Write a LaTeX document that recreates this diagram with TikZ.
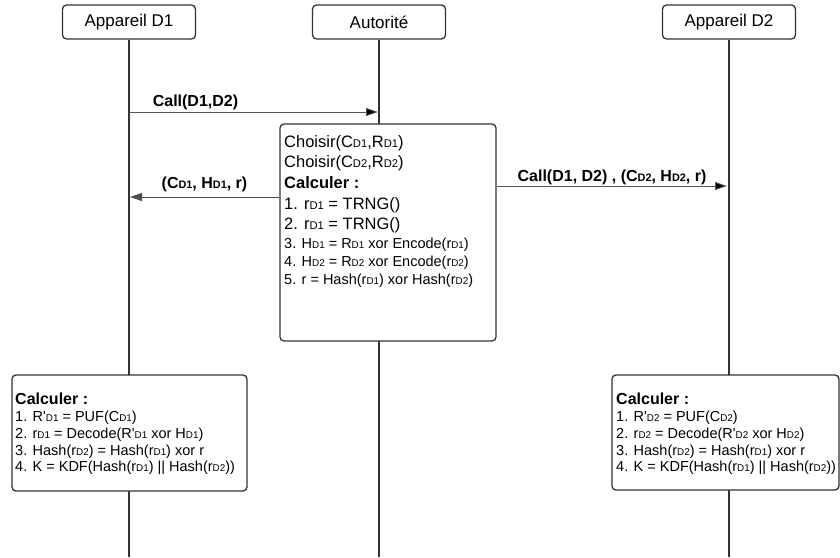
\documentclass[tikz,border=0pt]{standalone}
\usepackage{fontspec}
\setmainfont{Liberation Sans}
\usetikzlibrary{arrows.meta,positioning}
\definecolor{ink}{RGB}{51,51,51}
\definecolor{wire}{RGB}{85,85,85}
\definecolor{slate}{RGB}{72,78,88}
\newcommand{\sbd}[1]{\scalebox{0.68}{#1}}
\tikzset{
  >={Triangle[length=12pt,width=8pt]},
  actor/.style={draw=ink,line width=1.3pt,rounded corners=4pt,fill=white,
    minimum width=133pt,minimum height=34pt,inner sep=0pt,
    font=\fontsize{17}{20}\selectfont},
  panel/.style={draw=ink,line width=1.3pt,rounded corners=4pt,fill=white,inner sep=0pt},
  life/.style={draw=ink,line width=1.1pt},
  msg/.style={->,draw=wire,line width=0.9pt},
  msg/.default=black,
  lbl/.style={anchor=base,inner sep=0pt,font=\fontsize{16}{19}\selectfont\bfseries},
  txtbig/.style={anchor=base west,inner sep=0pt,font=\fontsize{16.5}{19}\selectfont},
  txtsmall/.style={anchor=base west,inner sep=0pt,font=\fontsize{14.5}{17}\selectfont},
}

\begin{document}
\begin{tikzpicture}[x=1pt,y=-1pt]
  \useasboundingbox (0,0) rectangle (840,557);
  % participants and lifelines
  \foreach \n/\x/\t in {d1/129/Appareil D1,auth/379/Autorité,d2/729/Appareil D2}{
    \node[actor] (\n) at (\x,22) {\t};
    \coordinate (\n end) at (\x,557);
    \draw[life] (\n.south) -- (\n end);
  }
  % computation boxes
  \node[panel,minimum width=216pt,minimum height=217pt] (job) at (388,232.5) {};
  \node[panel,minimum width=235pt,minimum height=116pt] (job1) at (129.5,433) {};
  \node[panel,minimum width=227pt,minimum height=115pt] (job2) at (725.5,432.5) {};

  \foreach \i/\s/\y/\t in {1/txtbig/147/{Choisir(C\sbd{D1},R\sbd{D1})},
      2/txtbig/167/{Choisir(C\sbd{D2},R\sbd{D2})},
      3/txtbig/188/{\textbf{Calculer :}},
      4/txtbig/209/{1. r\sbd{D1} = TRNG()},
      5/txtbig/229/{2. r\sbd{D1} = TRNG()},
      6/txtsmall/248/{3. H\sbd{D1} = R\sbd{D1} xor Encode(r\sbd{D1})},
      7/txtsmall/266/{4. H\sbd{D2} = R\sbd{D2} xor Encode(r\sbd{D2})},
      8/txtsmall/284/{5. r = Hash(r\sbd{D1}) xor Hash(r\sbd{D2})}}{
    \node[\s] (a\i) at (284,\y) {\t};
  }
  \foreach \k/\x in {1/15,2/616}{
    \pgfmathtruncatemacro{\j}{3-\k}
    \node[txtbig,font=\fontsize{16}{19}\selectfont\bfseries] (b\k0) at (\x,404) {Calculer :};
    \node[txtsmall] (b\k1) at (\x,421) {1. R\textquotesingle\sbd{D\k} = PUF(C\sbd{D\k})};
    \node[txtsmall] (b\k2) at (\x,438) {2. r\sbd{D\k} = Decode(R\textquotesingle\sbd{D\k} xor H\sbd{D\k})};
    \node[txtsmall] (b\k3) at (\x,455) {3. Hash(r\sbd{D2}) = Hash(r\sbd{D1}) xor r};
    \node[txtsmall] (b\k4) at (\x,471) {4. K = KDF(Hash(r\sbd{D1}) || Hash(r\sbd{D2}))};
  }

  % messages
  \coordinate (call1) at (129,112);
  \coordinate (call1e) at (378,112);
  \coordinate (back1) at (130,197);
  \coordinate (fwd2) at (727,186);
  \draw[msg,-{Triangle[length=12pt,width=8pt,fill=black]}] (call1) -- (call1e);
  \draw[msg,-{Triangle[length=12pt,width=8pt,fill=slate]},draw=slate] (job.west |- back1) -- (back1);
  \draw[msg,-{Triangle[length=12pt,width=8pt,fill=black]}] (job.east |- fwd2) -- (fwd2);
  \node[lbl] (m1) at (195.5,106) {Call(D1,D2)};
  \node[lbl] (m2) at (204.5,188) {(C\sbd{D1}, H\sbd{D1}, r)};
  \node[lbl] (m3) at (612,181) {Call(D1, D2) , (C\sbd{D2}, H\sbd{D2}, r)};
\end{tikzpicture}
\end{document}
